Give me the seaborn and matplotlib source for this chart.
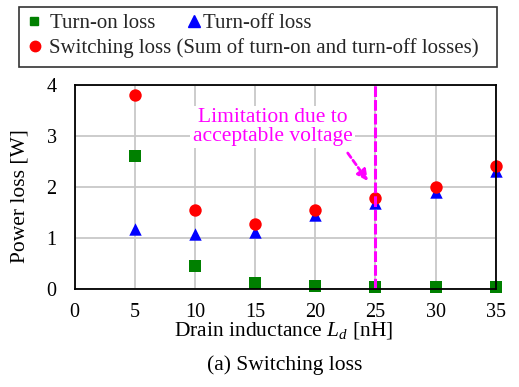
import matplotlib
matplotlib.use("Agg")
import matplotlib.pyplot as plt
import seaborn as sns
import pandas as pd
from matplotlib.patches import Rectangle
from matplotlib.lines import Line2D

inductance = [5, 10, 15, 20, 25, 30, 35]
turn_on = [2.61, 0.46, 0.12, 0.065, 0.05, 0.05, 0.05]
turn_off = [1.18, 1.08, 1.12, 1.46, 1.69, 1.90, 2.32]
switching = [3.80, 1.555, 1.27, 1.56, 1.79, 2.00, 2.42]
limit_x = 25

sns.set_theme(style="whitegrid")
plt.rcParams['font.family'] = ['Liberation Serif', 'DejaVu Serif']
plt.rcParams['mathtext.fontset'] = 'custom'
plt.rcParams['mathtext.it'] = 'Liberation Serif:italic'
plt.rcParams['mathtext.rm'] = 'Liberation Serif'
FS = 15.5
TFS = 14.5
LFS = 15

fig = plt.figure(figsize=(5.19, 3.87), dpi=100)
ax = fig.add_axes([0.144, 0.2525, 0.811, 0.5275])

df_on = pd.DataFrame({"x": inductance, "y": turn_on})
df_off = pd.DataFrame({"x": inductance, "y": turn_off})
df_sw = pd.DataFrame({"x": inductance, "y": switching})

kw = dict(ax=ax, s=80, linewidth=0, clip_on=False, zorder=5, legend=False)
sns.scatterplot(data=df_on, x="x", y="y", marker="s", color="#008000", **kw)
sns.scatterplot(data=df_off, x="x", y="y", marker="^", color="#0000FF", **kw)
sns.scatterplot(data=df_sw, x="x", y="y", marker="o", color="#FF0000", **kw)

ax.axvline(limit_x, color="#FF00FF", linestyle=(0, (3.5, 1)), linewidth=2.2, zorder=6)

ax.set_xlim(0, 35)
ax.set_ylim(0, 4)
ax.set_xticks(range(0, 36, 5))
ax.set_yticks(range(0, 5))
ax.grid(True, color="#C8C8C8", linewidth=1.3)
for s in ax.spines.values():
    s.set_color("black")
    s.set_linewidth(1.3)
    s.set_zorder(7)
ax.tick_params(axis="both", length=0, labelsize=TFS, colors="black")
ax.tick_params(axis="x", pad=10)
ax.tick_params(axis="y", pad=13)
ax.set_ylabel("Power loss [W]", fontsize=FS, color="black")
ax.set_xlabel("Drain inductance $L_d$ [nH]", fontsize=FS, color="black")
ax.yaxis.set_label_coords(-0.13, 0.457)
ax.xaxis.set_label_coords(0.497, -0.204)
ax.xaxis.label.set_va("center")
ax.yaxis.label.set_va("center")

ax.text(16.44, 3.18, "Limitation due to\nacceptable voltage", color="#FF00FF",
        fontsize=FS, ha="center", va="center", linespacing=0.95, zorder=8,
        bbox=dict(facecolor="white", edgecolor="none", pad=2))
ax.annotate("", xy=(24.38, 2.12), xytext=(22.7, 2.67),
            arrowprops=dict(arrowstyle="-|>", color="#FF00FF", lw=2,
                            linestyle=(0, (2, 1.2)), mutation_scale=16,
                            shrinkA=0, shrinkB=0), zorder=8)

fig.text(284.5 / 519, 1 - 365 / 387, "(a) Switching loss", fontsize=FS,
         ha="center", va="center", color="black")

# legend frame
fig.patches.append(Rectangle((19 / 519, 1 - 67 / 387), 478 / 519, 60 / 387,
                             transform=fig.transFigure, facecolor="white",
                             edgecolor="#333333", linewidth=1.2))
h_on = Line2D([], [], marker="s", color="#008000", linestyle="none", markersize=6)
h_off = Line2D([], [], marker="^", color="#0000FF", linestyle="none", markersize=8)
h_sw = Line2D([], [], marker="o", color="#FF0000", linestyle="none", markersize=7.5)

HL = 0.8
hl_px = HL * LFS * 100 / 72
legend_specs = [
    (h_on, "Turn-on loss", 34, 23.3, 50),
    (h_off, "Turn-off loss", 194, 23.3, 203),
    (h_sw, "Switching loss (Sum of turn-on and turn-off losses)", 35, 48.3, 49),
]
for h, lab, cx, cy, tx in legend_specs:
    left = cx - hl_px / 2
    pad = (tx - (left + hl_px)) / (LFS * 100 / 72)
    leg = fig.legend([h], [lab], loc="center left",
                     bbox_to_anchor=(left / 519, 1 - cy / 387), frameon=False,
                     fontsize=LFS, handlelength=HL, handletextpad=max(pad, 0.0),
                     borderaxespad=0, borderpad=0)

fig.savefig("out.png", dpi=100)
